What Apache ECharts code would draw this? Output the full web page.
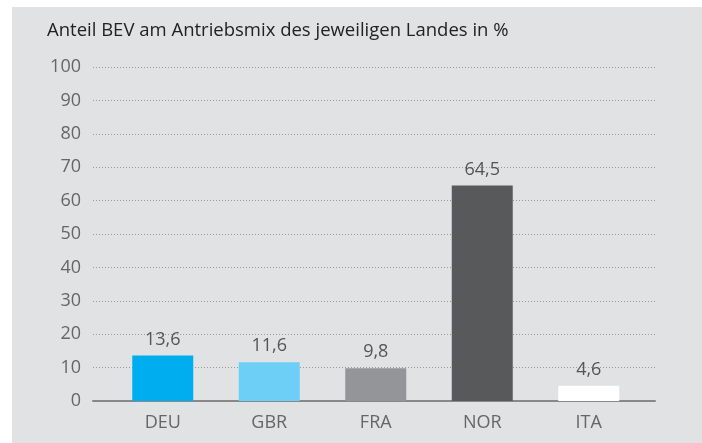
<!DOCTYPE html>
<html>
<head>
<meta charset="utf-8">
<script src="https://cdn.jsdelivr.net/npm/echarts@6/dist/echarts.min.js"></script>
<style>
  html, body { margin: 0; padding: 0; background: #fff; }
  #chart { position: absolute; left: 12px; top: 7px; width: 690px; height: 436px; }
</style>
</head>
<body>
<div id="chart"></div>
<script>
const categories = ['DEU', 'GBR', 'FRA', 'NOR', 'ITA']
const values = [13.6, 11.6, 9.8, 64.5, 4.6]
const barColors = ['#00aeef', '#6dcff6', '#939598', '#58595b', '#ffffff']
const yTicks = [0, 10, 20, 30, 40, 50, 60, 70, 80, 90, 100]

const chart = echarts.init(document.getElementById('chart'))
const font = '"Open Sans", "Noto Sans", sans-serif'

chart.setOption({
  backgroundColor: '#e1e2e4',
  animation: false,
  textStyle: { fontFamily: font },
  title: {
    text: 'Anteil BEV am Antriebsmix des jeweiligen Landes in %',
    left: 30,
    top: 9,
    textStyle: { fontSize: 18.5, fontWeight: 'normal', color: '#222', fontFamily: font }
  },
  grid: [
    { left: 81, right: 47, top: 60, bottom: 42 },
    { left: 97.5, right: 60, top: 60, bottom: 42 }
  ],
  xAxis: [
    {
      gridIndex: 0,
      type: 'category',
      data: categories,
      axisLine: { show: true, lineStyle: { color: '#888', width: 2 } },
      axisTick: { show: false },
      axisLabel: { show: false }
    },
    {
      gridIndex: 1,
      type: 'category',
      data: categories,
      axisLine: { show: false },
      axisTick: { show: false },
      axisLabel: { color: '#666', fontSize: 18, margin: 13, fontFamily: font }
    }
  ],
  yAxis: [
    {
      gridIndex: 0,
      type: 'value',
      min: yTicks[0],
      max: yTicks[yTicks.length - 1],
      interval: 10,
      axisLine: { show: false },
      axisTick: { show: false },
      axisLabel: { color: '#666', fontSize: 18, margin: 12, fontFamily: font },
      splitLine: { lineStyle: { color: '#999', type: [1, 2], width: 1 } }
    },
    {
      gridIndex: 1,
      type: 'value',
      min: yTicks[0],
      max: yTicks[yTicks.length - 1],
      interval: 10,
      show: false
    }
  ],
  series: [
    {
      type: 'bar',
      xAxisIndex: 1,
      yAxisIndex: 1,
      barWidth: 61,
      data: values.map((v, i) => ({ value: v, itemStyle: { color: barColors[i] } })),
      label: {
        show: true,
        position: 'top',
        distance: 7,
        color: '#555',
        fontSize: 18,
        fontFamily: font,
        formatter: p => String(p.value).replace('.', ',')
      }
    }
  ]
})
</script>
</body>
</html>
